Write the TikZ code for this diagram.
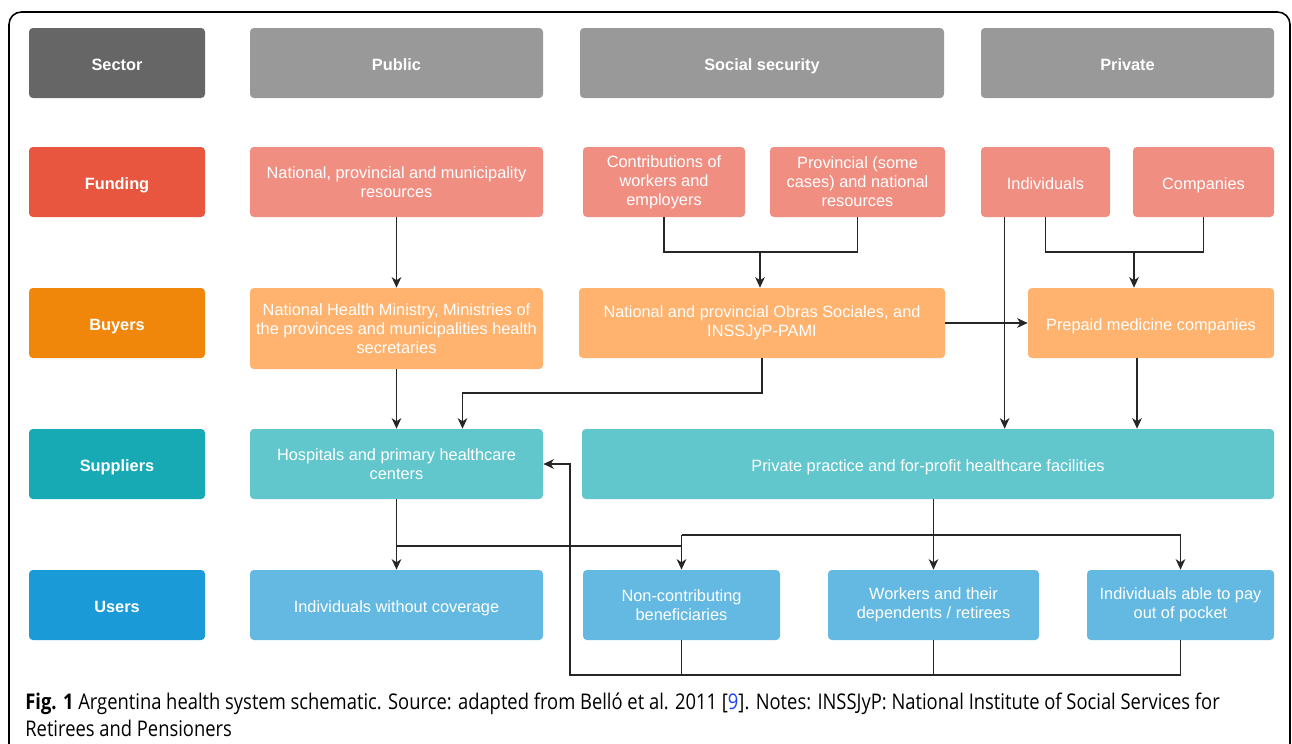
\documentclass[tikz,border=0pt]{standalone}
\usepackage{fontspec}
\setmainfont{Liberation Sans}
\newfontfamily\capfont{Open Sans}[FakeStretch=0.85]
\usetikzlibrary{arrows.meta,calc}
\definecolor{sectcol}{HTML}{666666}
\definecolor{headcol}{HTML}{999999}
\definecolor{fundA}{HTML}{E8563F}
\definecolor{fundB}{HTML}{F08E82}
\definecolor{buyA}{HTML}{F0870A}
\definecolor{buyB}{HTML}{FFB36E}
\definecolor{supA}{HTML}{17AAB5}
\definecolor{supB}{HTML}{62C6CD}
\definecolor{useA}{HTML}{1A9AD6}
\definecolor{useB}{HTML}{63B9E1}
\definecolor{linkblue}{HTML}{1F3FFF}
\tikzset{
  sz/.style 2 args={minimum width=#1*0.02cm,minimum height=#2*0.02cm},
  cell/.style={rectangle,rounded corners=2.2pt,text=white,align=center,inner sep=0pt,font=\fontsize{9.3}{10.8}\selectfont},
  oneline/.style={text height=8.4pt,text depth=0pt},
  rowlab/.style={cell,oneline,font=\fontsize{9.3}{10.8}\selectfont\bfseries},
  conn/.style={draw=black!85,line width=0.6pt},
  arr/.style={conn,-{Stealth[length=6pt,width=5.5pt,inset=1.8pt]}},
  capt/.style={font=\capfont\fontsize{12.3}{15.4}\selectfont,inner sep=0pt},
}
\begin{document}
\begin{tikzpicture}[x=0.02cm,y=-0.02cm]
  \useasboundingbox (0,0) rectangle (1292,744);
  \draw[line width=0.9pt,rounded corners=7pt] (9,744) -- (9,12) -- (1290,12) -- (1290,744);
  % sector row
  \node[rowlab,fill=sectcol,sz={176}{70}] (lsect) at (117,63) {Sector};
  \node[rowlab,fill=headcol,sz={293}{70}] (hpub) at (396.5,63) {Public};
  \node[rowlab,fill=headcol,sz={364}{70}] (hsoc) at (762,63) {Social security};
  \node[rowlab,fill=headcol,sz={293}{70}] (hpriv) at (1127.5,63) {Private};
  % funding row
  \node[rowlab,fill=fundA,sz={176}{70}] (lfund) at (117,182) {Funding};
  \node[cell,fill=fundB,sz={293}{70}] (fpub) at (396.5,182) {National, provincial and municipality\\resources};
  \node[cell,fill=fundB,sz={162}{70}] (fcon) at (664,182) {Contributions of\\workers and\\employers};
  \node[cell,fill=fundB,sz={175}{70}] (fprov) at (857.5,182) {Provincial (some\\cases) and national\\resources};
  \node[cell,oneline,fill=fundB,sz={129}{70}] (find) at (1045.5,182) {Individuals};
  \node[cell,oneline,fill=fundB,sz={141}{70}] (fcomp) at (1203.5,182) {Companies};
  % buyers row
  \node[rowlab,fill=buyA,sz={176}{70}] (lbuy) at (117,323) {Buyers};
  \node[cell,fill=buyB,sz={293}{81}] (bnhm) at (396.5,328.5) {National Health Ministry, Ministries of\\the provinces and municipalities health\\secretaries};
  \node[cell,fill=buyB,sz={366}{70}] (bobras) at (762,323) {National and provincial Obras Sociales, and\\INSSJyP-PAMI};
  \node[cell,oneline,fill=buyB,sz={246}{70}] (bpre) at (1151,323) {Prepaid medicine companies};
  % suppliers row
  \node[rowlab,fill=supA,sz={176}{70}] (lsup) at (117,464) {Suppliers};
  \node[cell,fill=supB,sz={293}{70}] (shosp) at (396.5,464) {Hospitals and primary healthcare\\centers};
  \node[cell,oneline,fill=supB,sz={692}{70}] (sprp) at (928,464) {Private practice and for-profit healthcare facilities};
  % users row
  \node[rowlab,fill=useA,sz={176}{70}] (luse) at (117,605) {Users};
  \node[cell,oneline,fill=useB,sz={293}{70}] (ucov) at (396.5,605) {Individuals without coverage};
  \node[cell,fill=useB,sz={197}{70}] (unon) at (681.5,605) {Non-contributing\\beneficiaries};
  \node[cell,fill=useB,sz={211}{70}] (uwork) at (933.5,605) {Workers and their\\dependents / retirees};
  \node[cell,fill=useB,sz={187}{70}] (uable) at (1180.5,605) {Individuals able to pay\\out of pocket};
  % funding to buyers
  \coordinate (ssjoin) at (760,252);
  \coordinate (prjoin) at (1134,252);
  \coordinate (indout) at ($(find.south west)+(24,0)$);
  \draw[arr] (fpub.south) -- (bnhm.north);
  \draw[conn] (fcon.south) |- (ssjoin) -| (fprov.south);
  \draw[arr] (ssjoin) -- (ssjoin |- bobras.north);
  \draw[conn] (find.south) |- (prjoin) -| (fcomp.south);
  \draw[arr] (prjoin) -- (prjoin |- bpre.north);
  \draw[arr] (indout) -- (indout |- sprp.north);
  \draw[arr] (bobras.east) -- (bpre.west);
  % buyers to suppliers
  \coordinate (hospin) at ($(shosp.north)+(66,0)$);
  \coordinate (preout) at ($(bpre.south)+(-14,0)$);
  \draw[arr] (bnhm.south) -- (shosp.north);
  \draw[arr] (bobras.south) -- (bobras.south |- 0,393) -| (hospin);
  \draw[arr] (preout) -- (preout |- sprp.north);
  % suppliers to users
  \coordinate (pbranch) at (uwork.north |- 0,535);
  \draw[arr] (shosp.south) -- (ucov.north);
  \draw[conn] (shosp.south |- 0,546) -- (unon.north |- 0,546);
  \draw[arr] (uwork.north |- sprp.south) -- (uwork.north);
  \draw[conn] (pbranch -| unon.north) -- (pbranch -| uable.north);
  \draw[arr] (pbranch -| unon.north) -- (unon.north);
  \draw[arr] (pbranch -| uable.north) -- (uable.north);
  % users back to hospitals
  \coordinate (back) at (570,675);
  \draw[conn] (unon.south) -- (unon.south |- back);
  \draw[conn] (uwork.south) -- (uwork.south |- back);
  \draw[arr] (uable.south) |- (back) |- (shosp.east);
  % caption
  \node[capt,anchor=base west] (capt1) at (25,709) {\textbf{Fig. 1} Argentina health system schematic. Source: adapted from Bell\'o et al. 2011 [\textcolor{linkblue}{9}]. Notes: INSSJyP: National Institute of Social Services for};
  \node[capt,anchor=base west] (capt2) at ($(capt1.base west)+(0,27)$) {Retirees and Pensioners};
\end{tikzpicture}
\end{document}
